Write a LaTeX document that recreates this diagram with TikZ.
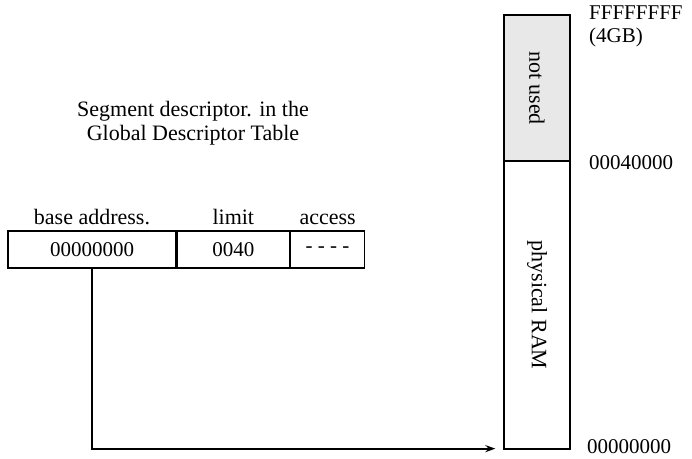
\documentclass[tikz,border=0pt]{standalone}
\usepackage{fontspec}
\setmainfont{Liberation Serif}
\usetikzlibrary{positioning, arrows.meta}

\begin{document}
\begin{tikzpicture}[
  x=1pt, y=1pt,
  % --- Style definitions ---
  cell/.style={draw, line width=1.3pt, minimum height=37pt, inner sep=0pt,
               font=\fontsize{21}{24}\selectfont},
  head/.style={inner sep=0pt, font=\fontsize{22}{24}\selectfont},
  ttl/.style={inner sep=0pt, align=center, font=\fontsize{22}{24}\selectfont},
  mem/.style={draw, line width=1.3pt, rotate=-90, minimum height=66pt, inner sep=0pt,
              font=\fontsize{22}{24}\selectfont},
  addr/.style={inner sep=0pt, align=left, font=\fontsize{21}{23}\selectfont},
  arr/.style={-{Stealth[length=10pt, width=7pt]}, line width=2pt},
]
\useasboundingbox (0,0) rectangle (692,458);

% ===== Descriptor table =====
\node[ttl] (title) at (193,335) {Segment descriptor. in the\\Global Descriptor Table};

\node[cell, minimum width=168pt] (base) at (92,208.5) {00000000};
\node[cell, minimum width=112pt, right=0pt of base] (limit) {0040};
\node[cell, minimum width=74pt, right=0pt of limit] (access) {- - - -};

\node[head, above=5pt of base] (hbase) {base address.};
\node[head, above=5pt of limit] (hlimit) {limit};
\node[head, above=5pt of access] (haccess) {access};

% ===== Physical memory =====
\node[mem, minimum width=146pt, fill=black!9] (unused) at (537,370) {not used};
\node[mem, minimum width=288pt] (ram) at (537,153) {physical RAM};

\node[addr, anchor=north west] (top) at (589,452) {FFFFFFFF\\(4GB)};
\node[addr, anchor=west] (mid) at (589,295) {00040000};
\node[addr, anchor=west] (bot) at (587,11) {00000000};

% ===== Arrow =====
\draw[arr] (base.south) |- ([xshift=-8pt, yshift=1pt]ram.south east);

\end{tikzpicture}
\end{document}
